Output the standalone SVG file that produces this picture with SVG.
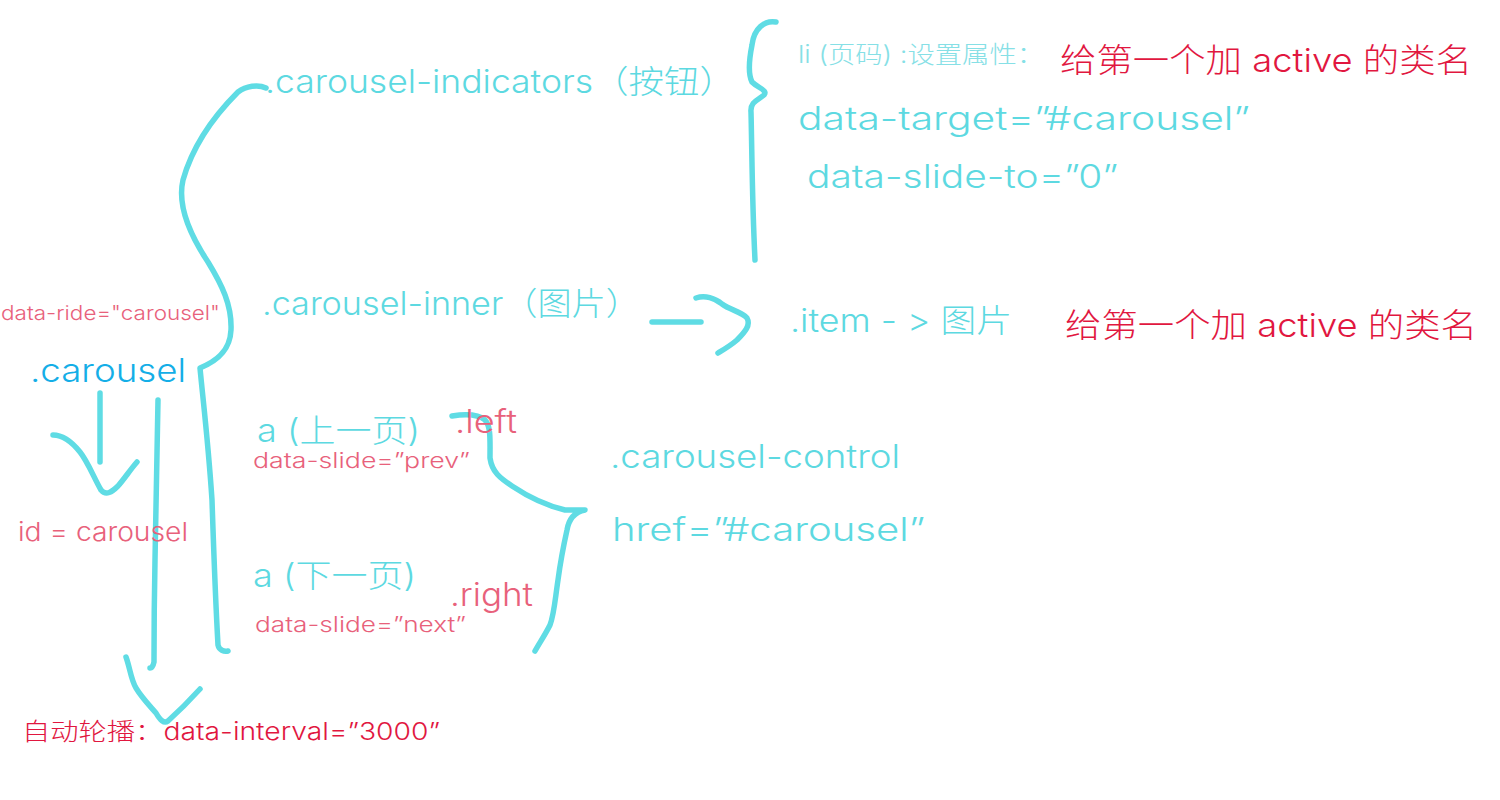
<svg xmlns="http://www.w3.org/2000/svg" width="1500" height="800" viewBox="0 0 1500 800">
<defs>
<filter id="soft" filterUnits="userSpaceOnUse" x="0" y="0" width="1500" height="800"><feGaussianBlur stdDeviation="0.7"/></filter>
</defs>
<style>
text{font-family:"Inter","Liberation Sans","Noto Sans CJK SC",sans-serif;font-weight:300;}
.cy{fill:#5dd9e1;font-size:32px;}
.cyl{fill:#86e0e6;font-size:24px;}
.blue{fill:#14aee7;font-size:32px;}
.pink{fill:#e8617b;}
.red{fill:#e1173f;}
.stroke{fill:none;stroke:#5fdce4;stroke-width:5.5;stroke-linecap:round;stroke-linejoin:round;filter:url(#soft);}
</style>
<rect width="1500" height="800" fill="#ffffff"/>
<g id="connectors">
<path class="stroke" d="M266,88 C258,84 246,86 238,92 C212,118 192,148 183,180 C177,206 190,235 208,262 C222,285 232,305 231,330 C230,352 215,362 200,368 C203,400 208,440 212,500 C214,560 216,610 218,645 C219,650 224,652 228,651"/>
<path class="stroke" d="M776,22 C765,20 754,28 752,45 C749,60 748,74 752,82 C758,88 768,90 764,95 C758,100 750,102 751,112 C752,150 752,200 755,260"/>
<path class="stroke" d="M652,322 L701,322"/>
<path class="stroke" d="M696,298 C705,295 715,298 722,304 C730,310 742,312 747,318 C751,325 745,332 737,340 C730,346 723,350 718,353"/>
<path class="stroke" d="M452,416 C465,414 478,414 485,420 C491,426 490,440 490,458 C492,472 500,478 512,486 C530,498 548,506 565,510 L585,510 C575,512 569,518 567,530 C563,548 560,565 558,580 C555,600 554,615 550,625 C545,635 540,642 535,651"/>
<path class="stroke" d="M100,393 L100,462"/>
<path class="stroke" d="M53,435 C62,435 72,442 80,452 C88,462 94,478 101,490 C106,496 112,492 118,486 C125,478 130,470 137,462"/>
<path class="stroke" d="M158,400 C157,440 156,500 155,560 C154,610 154,645 154,662 C153,667 151,668 150,668"/>
<path class="stroke" d="M126,657 C130,668 131,680 136,688 C142,698 150,706 156,713 C160,720 164,724 168,721 C178,712 190,700 200,689"/>
</g>
<g id="node-indicators"><text class="cy" x="265" y="93" textLength="470" lengthAdjust="spacingAndGlyphs">.carousel-indicators（按钮）</text></g>
<g id="node-li"><text class="cyl" x="798" y="63" textLength="246" lengthAdjust="spacingAndGlyphs">li (页码) :设置属性：</text></g>
<g id="node-active1"><text class="red" x="1060" y="72" font-size="33" textLength="412" lengthAdjust="spacingAndGlyphs">给第一个加 active 的类名</text></g>
<g id="node-target"><text class="cy" x="798" y="130" textLength="452" lengthAdjust="spacingAndGlyphs">data-target=”#carousel”</text></g>
<g id="node-slideto"><text class="cy" x="807" y="188" textLength="311" lengthAdjust="spacingAndGlyphs">data-slide-to=”0”</text></g>
<g id="node-inner"><text class="cy" x="262" y="315" textLength="378" lengthAdjust="spacingAndGlyphs">.carousel-inner（图片）</text></g>
<g id="node-item"><text class="cy" x="790" y="332" font-size="31" textLength="222" lengthAdjust="spacingAndGlyphs">.item  - &gt; 图片</text></g>
<g id="node-active2"><text class="red" x="1065" y="337" font-size="33" textLength="412" lengthAdjust="spacingAndGlyphs">给第一个加 active 的类名</text></g>
<g id="node-ride"><text class="pink" x="1" y="320" font-size="20" textLength="219" lengthAdjust="spacingAndGlyphs">data-ride="carousel"</text></g>
<g id="node-carousel"><text class="blue" x="30" y="382" textLength="156" lengthAdjust="spacingAndGlyphs">.carousel</text></g>
<g id="node-id"><text class="pink" x="18" y="541" font-size="26" textLength="170" lengthAdjust="spacingAndGlyphs">id = carousel</text></g>
<g id="node-prev"><text class="cy" x="257" y="442" textLength="163" lengthAdjust="spacingAndGlyphs">a (上一页)</text></g>
<g id="node-left"><text class="pink" x="455" y="433" font-size="32" textLength="62" lengthAdjust="spacingAndGlyphs">.left</text></g>
<g id="node-prev-attr"><text class="pink" x="253" y="468" font-size="21" textLength="217" lengthAdjust="spacingAndGlyphs">data-slide=”prev”</text></g>
<g id="node-control"><text class="cy" x="610" y="468" textLength="290" lengthAdjust="spacingAndGlyphs">.carousel-control</text></g>
<g id="node-href"><text class="cy" x="612" y="541" textLength="313" lengthAdjust="spacingAndGlyphs">href=”#carousel”</text></g>
<g id="node-next"><text class="cy" x="253" y="587" textLength="163" lengthAdjust="spacingAndGlyphs">a (下一页)</text></g>
<g id="node-right"><text class="pink" x="450" y="606" font-size="32" textLength="83" lengthAdjust="spacingAndGlyphs">.right</text></g>
<g id="node-next-attr"><text class="pink" x="255" y="632" font-size="21" textLength="211" lengthAdjust="spacingAndGlyphs">data-slide=”next”</text></g>
<g id="node-interval"><text class="red" x="22" y="740" font-size="24" textLength="418" lengthAdjust="spacingAndGlyphs">自动轮播：data-interval=”3000”</text></g>
</svg>
